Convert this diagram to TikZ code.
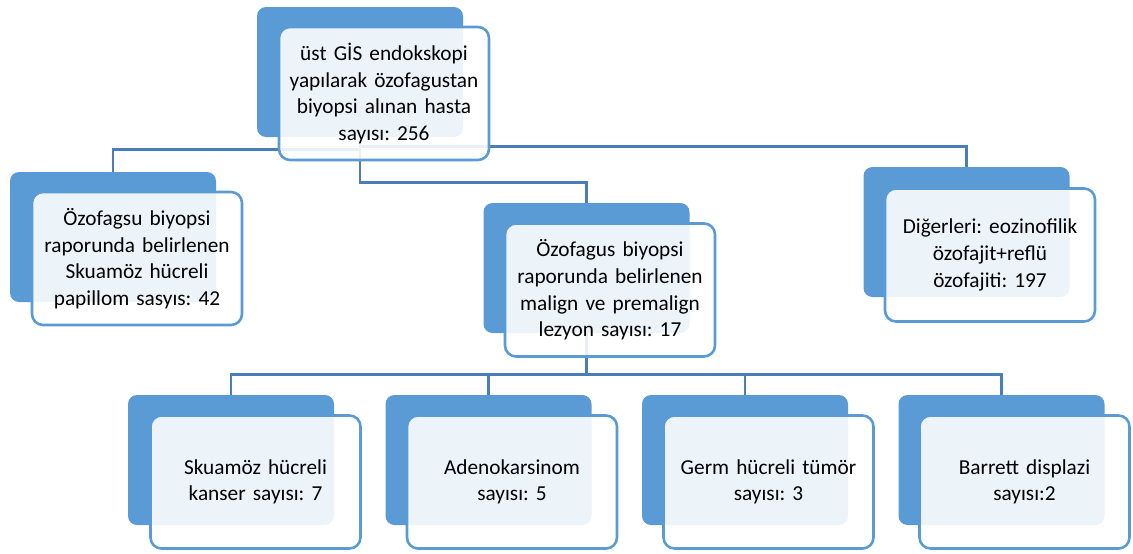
\documentclass[tikz,border=0pt]{standalone}
\usepackage{fontspec}
\setmainfont{Carlito}
\frenchspacing
\usetikzlibrary{backgrounds}
\definecolor{boxblue}{HTML}{5B9BD5}
\definecolor{lineblue}{HTML}{4A7EBB}
\tikzset{
  backbox/.style={draw=none, fill=boxblue, rounded corners=9pt, minimum width=206pt, minimum height=130pt, inner sep=0pt},
  frontbox/.style={draw=boxblue, line width=2.6pt, fill=white, fill opacity=0.89, text opacity=1, rounded corners=11pt, minimum width=210pt, minimum height=133pt, align=center, text width=206pt, inner sep=0pt, font=\fontsize{21.3}{26.6}\selectfont},
  conn/.style={draw=lineblue, line width=2.8pt}
}
\begin{document}
\begin{tikzpicture}[x=1pt,y=-1pt]
\useasboundingbox (0,0) rectangle (1133,554);
% top
\node[backbox] (tb) at (360,72) {};
\node[frontbox] (tf) at (384,93.5) {üst GİS endokskopi\\yapılarak özofagustan\\biyopsi alınan hasta\\sayısı: 256};
% left
\node[backbox] (lb) at (113,237) {};
\node[frontbox] (lf) at (137,258.5) {Özofagsu biyopsi\\raporunda belirlenen\\Skuamöz hücreli\\papillom sasyıs: 42};
% middle
\node[backbox] (mb) at (586.5,268) {};
\node[frontbox] (mf) at (610,290) {Özofagus biyopsi\\raporunda belirlenen\\malign ve premalign\\lezyon sayısı: 17};
% right
\node[backbox] (rb) at (966.5,232) {};
\node[frontbox] (rf) at (990,255) {Diğerleri: eozinofilik\\özofajit+reflü\\özofajiti: 197};
% bottom row
\node[backbox] (b1b) at (231,460) {};
\node[frontbox] (b1f) at (255.5,482) {Skuamöz hücreli\\kanser sayısı: 7};
\node[backbox] (b2b) at (488.5,460) {};
\node[frontbox] (b2f) at (512,482) {Adenokarsinom\\sayısı: 5};
\node[backbox] (b3b) at (745,460) {};
\node[frontbox] (b3f) at (768.5,482) {Germ hücreli tümör\\sayısı: 3};
\node[backbox] (b4b) at (1001.5,460) {};
\node[frontbox] (b4f) at (1024.5,482) {Barrett displazi\\sayısı:2};
\begin{scope}[on background layer]
\draw[conn] (tb.south) -- ++(0,12) -| (lb.north);
\draw[conn] (tb.south) ++(0,9) -| (rb.north);
\draw[conn] (tb.south) -- ++(0,45) -| (mb.north);
\draw[conn] (mb.south) -- ++(0,41) -| (b1b.north);
\draw[conn] (mb.south) ++(0,41) -| (b2b.north);
\draw[conn] (mb.south) ++(0,41) -| (b3b.north);
\draw[conn] (mb.south) ++(0,41) -| (b4b.north);
\end{scope}
\end{tikzpicture}
\end{document}
